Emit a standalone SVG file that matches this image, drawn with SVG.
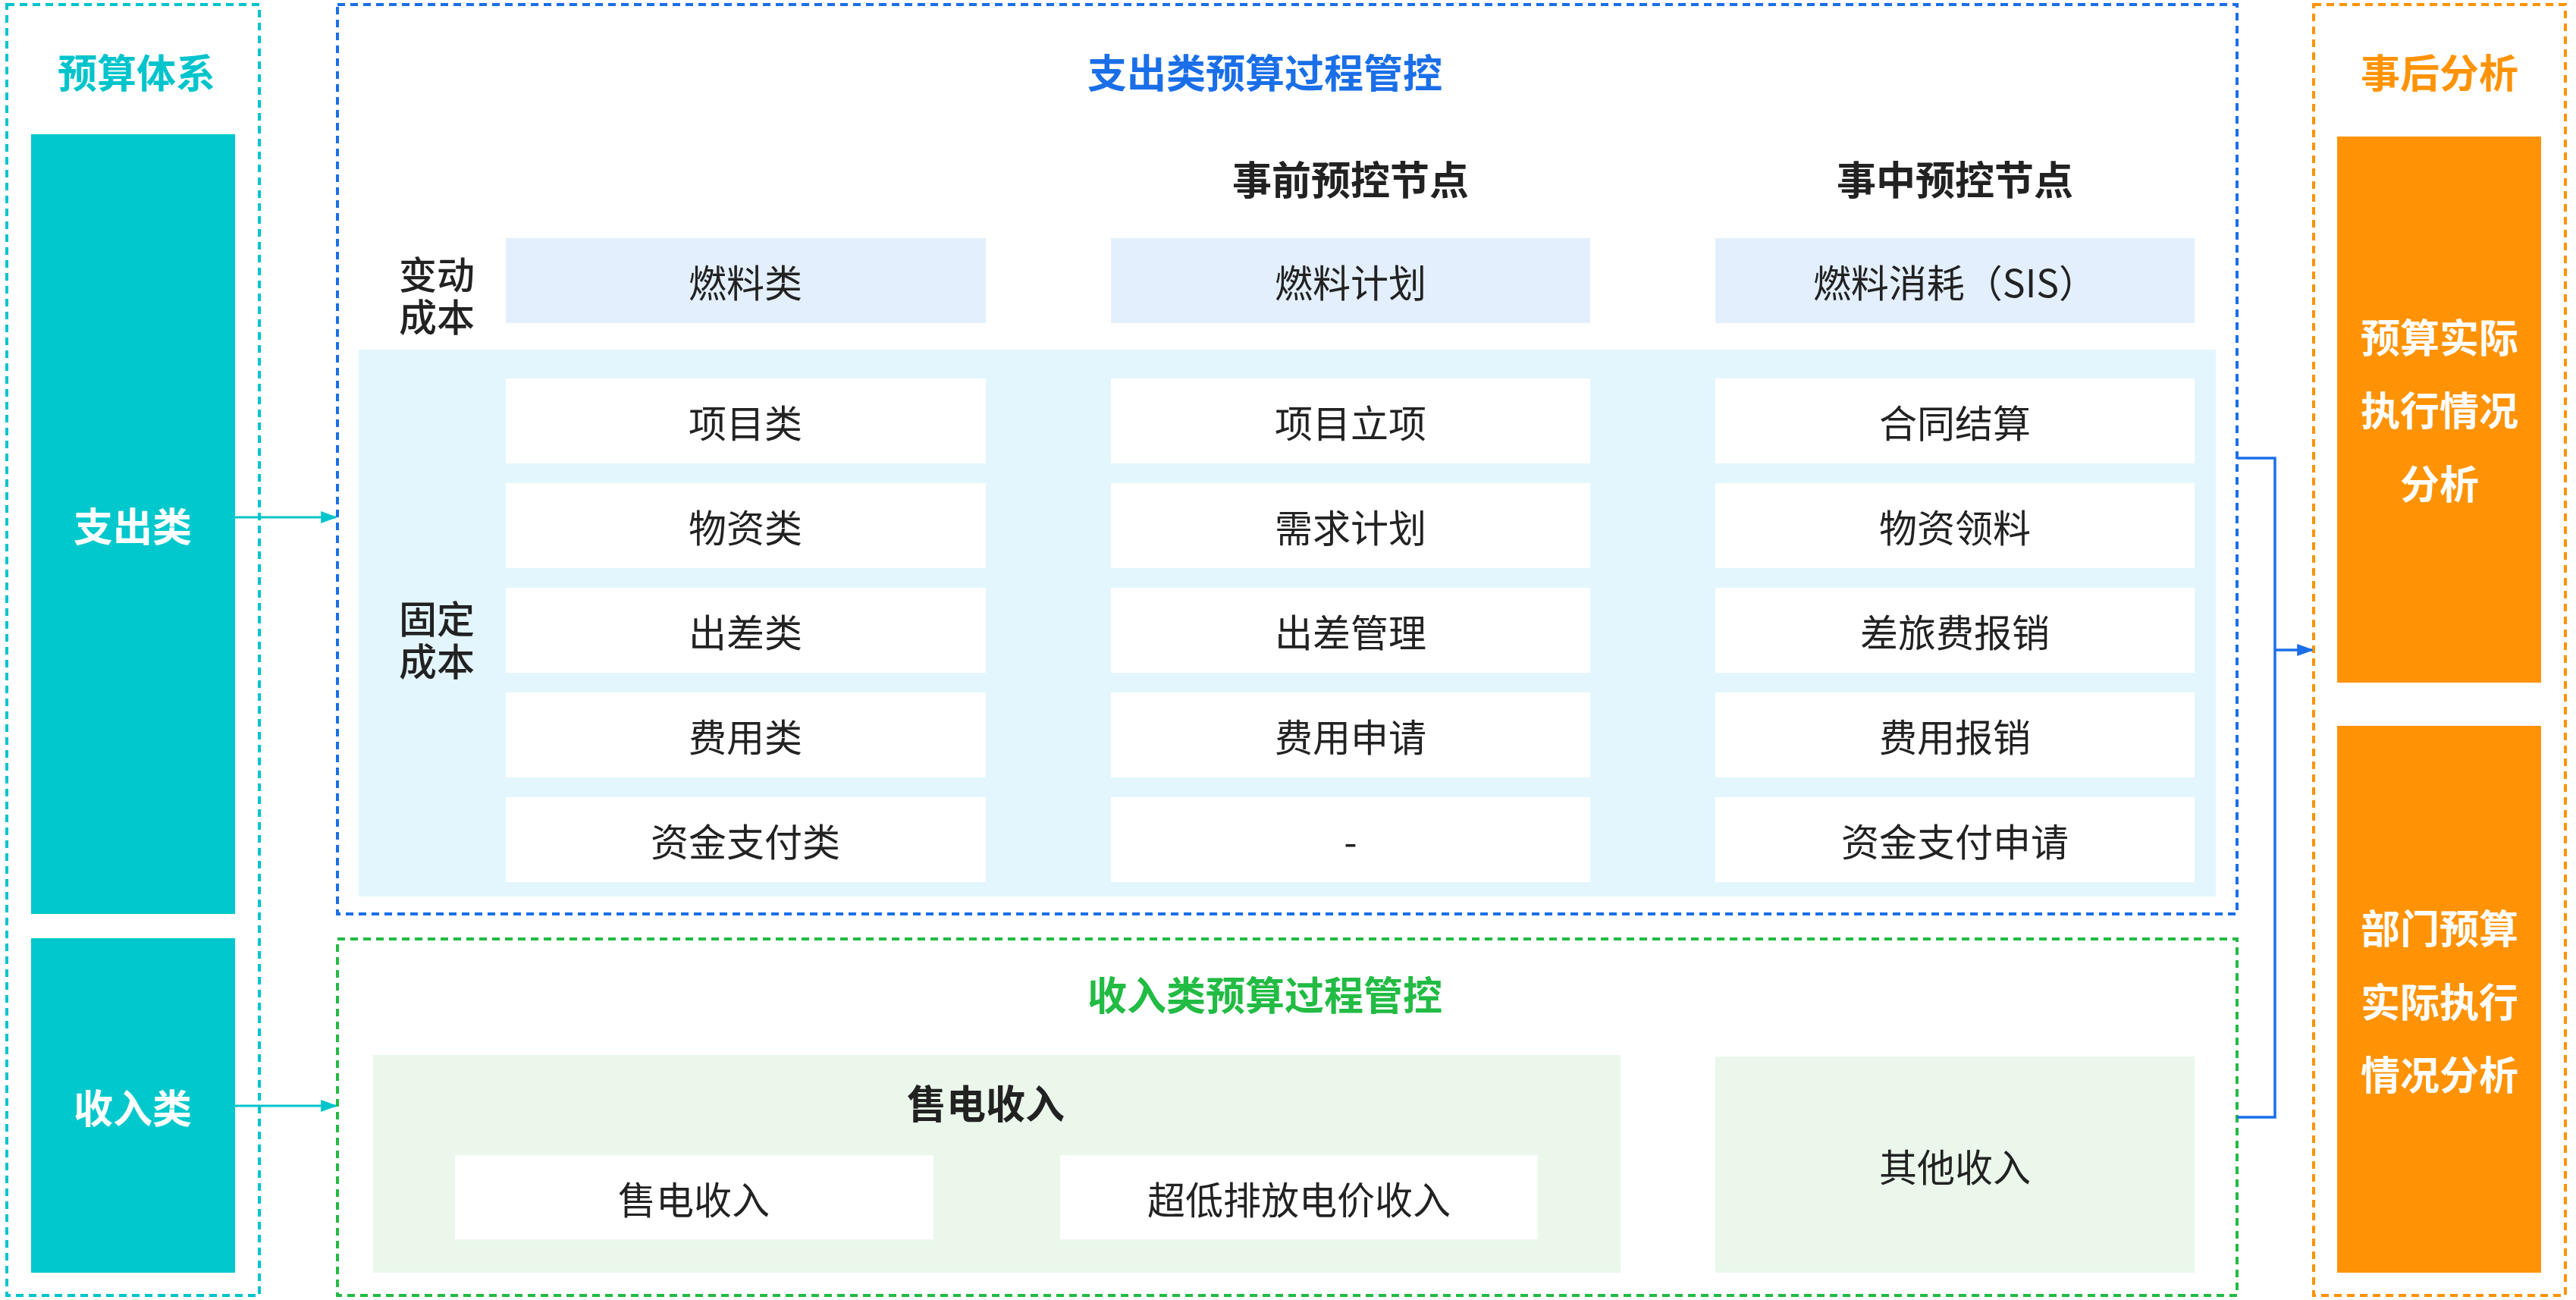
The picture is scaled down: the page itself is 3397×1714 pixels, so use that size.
<svg xmlns="http://www.w3.org/2000/svg" width="3397" height="1714" viewBox="0 0 3397 1714">
<style>
text{font-family:"Noto Sans CJK SC","Noto Sans",sans-serif;text-anchor:middle;dominant-baseline:central}
.b{font-size:50px;fill:#222}
.h{font-size:52px;font-weight:bold;fill:#222}
.l{font-size:50px;font-weight:500;fill:#222}
.w{font-size:52px;font-weight:bold;fill:#fff}
.frame{fill:none;stroke-width:4;stroke-dasharray:10 7}
.cell{fill:#fff}
.var{fill:#E3EFFD}
</style>
<defs>
<marker id="ab" viewBox="0 0 10 10" markerWidth="22" markerHeight="16" refX="9" refY="5" orient="auto" markerUnits="userSpaceOnUse" preserveAspectRatio="none"><path d="M0,0 L10,5 L0,10 z" fill="#1A6FE8"/></marker>
<marker id="at2" viewBox="0 0 10 10" markerWidth="22" markerHeight="16" refX="9" refY="5" orient="auto" markerUnits="userSpaceOnUse" preserveAspectRatio="none"><path d="M0,0 L10,5 L0,10 z" fill="#00C4CC"/></marker>
</defs>
<rect width="3397" height="1714" fill="#fff"/>
<g id="left">
<rect class="frame" x="9" y="6" width="333" height="1702" stroke="#00C4CC"/>
<text x="180" y="93" class="h" style="fill:#00C4CC">预算体系</text>
<rect x="41" y="177" width="269" height="1028" fill="#00C8CC"/>
<text x="175" y="691" class="w">支出类</text>
<rect x="41" y="1237" width="269" height="441" fill="#00C8CC"/>
<text x="175" y="1458" class="w">收入类</text>
</g>
<g id="expense">
<rect class="frame" x="445" y="6" width="2505" height="1199" stroke="#1A6FE8"/>
<text x="1668" y="93" class="h" style="fill:#1A6FE8">支出类预算过程管控</text>
<text x="1781" y="234" class="h">事前预控节点</text>
<text x="2578" y="234" class="h">事中预控节点</text>
<text class="l" dominant-baseline="auto"><tspan x="576" y="359">变动</tspan><tspan x="576" y="415">成本</tspan></text>
<rect class="var" x="667" y="314" width="633" height="112"/><text x="983" y="370" class="b">燃料类</text>
<rect class="var" x="1465" y="314" width="632" height="112"/><text x="1781" y="370" class="b">燃料计划</text>
<rect class="var" x="2262" y="314" width="632" height="112"/><text x="2578" y="370" class="b">燃料消耗（SIS）</text>
<rect x="473" y="461" width="2449" height="721" fill="#E3F6FD"/>
<text class="l" dominant-baseline="auto"><tspan x="576" y="813">固定</tspan><tspan x="576" y="869">成本</tspan></text>
<rect class="cell" x="667" y="499" width="633" height="112"/><text x="983" y="555" class="b">项目类</text>
<rect class="cell" x="1465" y="499" width="632" height="112"/><text x="1781" y="555" class="b">项目立项</text>
<rect class="cell" x="2262" y="499" width="632" height="112"/><text x="2578" y="555" class="b">合同结算</text>
<rect class="cell" x="667" y="637" width="633" height="112"/><text x="983" y="693" class="b">物资类</text>
<rect class="cell" x="1465" y="637" width="632" height="112"/><text x="1781" y="693" class="b">需求计划</text>
<rect class="cell" x="2262" y="637" width="632" height="112"/><text x="2578" y="693" class="b">物资领料</text>
<rect class="cell" x="667" y="775" width="633" height="112"/><text x="983" y="831" class="b">出差类</text>
<rect class="cell" x="1465" y="775" width="632" height="112"/><text x="1781" y="831" class="b">出差管理</text>
<rect class="cell" x="2262" y="775" width="632" height="112"/><text x="2578" y="831" class="b">差旅费报销</text>
<rect class="cell" x="667" y="913" width="633" height="112"/><text x="983" y="969" class="b">费用类</text>
<rect class="cell" x="1465" y="913" width="632" height="112"/><text x="1781" y="969" class="b">费用申请</text>
<rect class="cell" x="2262" y="913" width="632" height="112"/><text x="2578" y="969" class="b">费用报销</text>
<rect class="cell" x="667" y="1051" width="633" height="112"/><text x="983" y="1107" class="b">资金支付类</text>
<rect class="cell" x="1465" y="1051" width="632" height="112"/><text x="1781" y="1107" class="b">-</text>
<rect class="cell" x="2262" y="1051" width="632" height="112"/><text x="2578" y="1107" class="b">资金支付申请</text>
</g>
<g id="income">
<rect class="frame" x="445" y="1238" width="2505" height="470" stroke="#22BB44"/>
<text x="1668" y="1309" class="h" style="fill:#22BB44">收入类预算过程管控</text>
<rect x="492" y="1391" width="1645" height="287" fill="#EAF7EA"/>
<text x="1300" y="1452" class="h">售电收入</text>
<rect class="cell" x="600" y="1523" width="631" height="111"/><text x="915" y="1579" class="b">售电收入</text>
<rect class="cell" x="1398" y="1523" width="630" height="111"/><text x="1713" y="1579" class="b">超低排放电价收入</text>
<rect x="2262" y="1393" width="632" height="285" fill="#EAF7EA"/>
<text x="2578" y="1536" class="b">其他收入</text>
</g>
<g id="analysis">
<rect class="frame" x="3051" y="6" width="332" height="1702" stroke="#FF9305"/>
<text x="3217" y="93" class="h" style="fill:#FF9305">事后分析</text>
<rect x="3082" y="180" width="269" height="720" fill="#FF9305"/>
<text x="3217" y="442" class="w">预算实际</text>
<text x="3217" y="538" class="w">执行情况</text>
<text x="3217" y="635" class="w">分析</text>
<rect x="3082" y="957" width="269" height="721" fill="#FF9305"/>
<text x="3217" y="1221" class="w">部门预算</text>
<text x="3217" y="1318" class="w">实际执行</text>
<text x="3217" y="1414" class="w">情况分析</text>
</g>
<g id="connectors" fill="none">
<line x1="310" y1="682" x2="443" y2="682" stroke="#00C4CC" stroke-width="3" marker-end="url(#at2)"/>
<line x1="310" y1="1458" x2="443" y2="1458" stroke="#00C4CC" stroke-width="3" marker-end="url(#at2)"/>
<polyline points="2950,604 3000,604 3000,1473 2950,1473" stroke="#1A6FE8" stroke-width="3.5"/>
<line x1="3000" y1="857" x2="3049" y2="857" stroke="#1A6FE8" stroke-width="3.5" marker-end="url(#ab)"/>
</g>
</svg>
